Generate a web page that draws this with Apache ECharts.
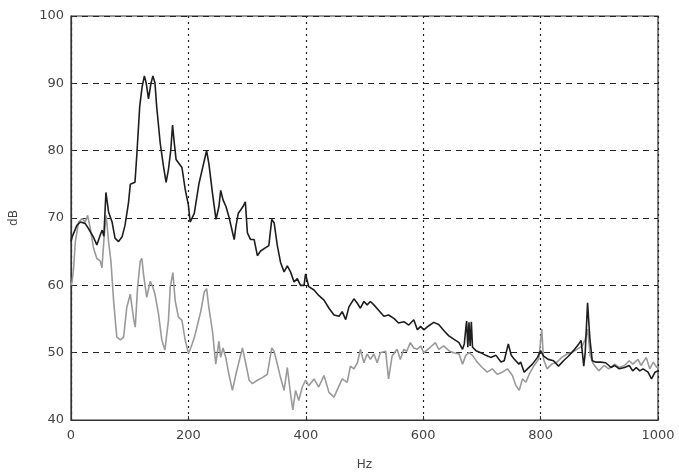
<!DOCTYPE html>
<html>
<head>
<meta charset="utf-8">
<script src="https://cdn.jsdelivr.net/npm/echarts@6/dist/echarts.min.js"></script>
<style>html,body{margin:0;padding:0;background:#fff}#c{width:679px;height:476px}</style>
</head>
<body>
<div id="c"></div>
<script>
// Upper (black) spectrum
var blackHz = [0,2,10,16,24,30,38,44,50,53,56,59.5,64,70,75,81,87,92,98,101,109,112,117,121,125,128,132,136,139.5,143,146,152,157.5,162,166,170,173,176,179,183,189,194.5,200,203,210,218,227,231,235,241,247,252,255,259,264,269,274,278,281,285,289,293,297,300.5,306,312,317.5,323,331.6,337,342,346,351.5,357,363,368.5,374,380,385.5,391,397,399.6,405,414,422,431,439.5,448,456.8,462,468,473.5,482,488,493,499,504.5,510,516,524,533,541,550,558,567,575.5,584,590,595.5,601,609.7,618,626.5,635,643.7,652,661,667,670,673,674,676,678,680,682,684,686,690,698,706.6,715,724,732.5,738,745,750,754.5,763,766,772,777.6,786,794.7,800,805,813,822,830.5,839,847.7,856,865,869,873.5,876,880,884,888,893.5,902,911,920,926,934,943,951,957,963,969,974.5,983,989,995,1000];
var blackDb = [66.5,67.2,68.9,69.4,69.2,68.4,67.2,66,67.5,68.2,67.3,73.8,70.9,69.4,67,66.5,67.2,68.9,72.3,75,75.3,79.2,86.5,89.4,91.1,90.1,87.7,89.9,91.1,90.1,86.5,81.1,77.7,75.3,77.2,80.1,83.8,81.1,78.7,78.2,77.5,74.3,71.9,69.4,70.7,75.1,78.5,80,78,73.7,69.8,71.7,74.1,72.7,71.7,70.2,68.3,66.8,68.8,70.7,71.2,71.7,72.4,67.8,66.8,66.8,64.4,65.1,65.6,65.9,69.8,69.3,65.9,63.4,62,62.9,62,60.5,61,60,60,61.7,59.8,59.3,58.5,57.8,56.6,55.6,55.4,56.1,54.9,56.8,58,57.3,56.6,57.6,57.1,57.6,57.1,56.3,55.4,55.6,55.1,54.4,54.6,54.1,54.9,53.4,53.9,53.4,54,54.5,54.2,53.3,52.5,52,51.5,50.5,51.3,54,54.7,50.8,54.5,51,54.6,50.8,50.8,50.3,50,49.6,49.3,49.6,48.6,48.8,51.3,49.6,49.1,48.3,48.6,47.1,47.6,48.3,49.3,50.3,49.5,49,48.8,48,48.8,49.5,50.3,51.3,51.8,48,50,57.4,52,48.8,48.6,48.6,48.5,47.8,48.1,47.6,47.8,48.1,47.3,47.8,47.3,47.6,47.1,46.1,47.1,47.3];

// Lower (grey) spectrum
var greyHz = [0,2,4.5,7.4,13,18.7,24.4,28.3,33,38.5,44,50,52.7,56.7,60,64,68,72.6,78,84,89.6,95,101,107,109.5,113.4,118,120.7,123.6,129,135,139.5,143,149,154.7,160,166,169,173.5,177.5,183,189,194.5,200,204,210,215.4,221,227,231,235,241,246.6,252,255,259,263.6,269,275,281,286.6,292,298,303.5,309,317.5,326,334.5,342,346,351.5,357,363,368.5,374,378,382.6,388,394,399.6,405,414,422,431,439.5,448,456.8,462,470.5,476,482,488,493,499,504.5,510,516,521.6,527,536,541,547,555.6,561,567,572,578,584,590,595.5,601,604,612,620.7,626.5,635,643.7,652,661,667,672.6,678,684,692,700.5,709,717.6,726,735,743.6,752,758,763.6,769,775,780.6,789,797,802,805,811,819,828,836,845,853,862,871,876,880,884.5,890,899,908,916,926,934,943,951,957,966,971,980,986,992,998,1000];
var greyDb = [60,60.6,62.6,66.5,69.4,69.9,69.4,70.4,68.4,65.5,64,63.6,62.6,67.5,70.4,66.5,63.6,57.7,52.3,51.9,52.3,56.7,58.7,54.8,53.8,59.7,63.6,64,61.6,58.2,60.6,59.7,58.7,55.8,51.9,50.4,54.8,59.7,61.9,57.7,55.3,54.8,51.9,49.9,50.7,52.2,54.1,56.1,59,59.5,56.6,53.2,48.3,51.7,49.3,50.7,49.3,46.8,44.4,46.8,48.8,50.7,48.3,45.9,45.4,45.9,46.3,46.8,50.7,50.2,48.3,46.3,44.4,47.8,43.9,41.5,44.4,42.9,44.9,45.9,45.1,46.1,44.9,46.6,44.1,43.4,45.1,46.1,45.6,48,47.6,48.5,50.5,48.5,49.8,49,49.8,48.5,50,50.2,46.1,49.5,50.5,49,50.5,50.2,51.5,50.7,50.5,51,50,50,50.8,51.5,50.5,51,50.3,50,49.8,48.3,49.6,50,49.6,48.6,47.8,47.1,47.6,46.8,47.1,47.6,46.6,45.1,44.4,46.1,45.6,46.8,48.1,49.1,53.5,49,47.6,48.3,48.6,49.3,49.8,50,50.5,51,52,53.5,49.6,48.3,47.3,48.1,47.6,48.3,47.8,48.1,48.8,48.3,49,48.1,49.3,47.6,48.6,47.8,48];

var xTicks = [0,200,400,600,800,1000];
var yTicks = [40,50,60,70,80,90,100];

function pairs(xs, ys){ return xs.map(function(x,i){ return [x, ys[i]]; }); }
function plain(v){ return String(v); }

var chart = echarts.init(document.getElementById('c'), null, {renderer:'canvas'});
var labelFont = {fontFamily:'DejaVu Sans', fontSize:13, color:'#444'};
chart.setOption({
  backgroundColor:'#fff',
  animation:false,
  grid:{left:70, right:21, top:16, bottom:49, show:true, borderColor:'#333', borderWidth:1.2, backgroundColor:'transparent'},
  xAxis:{
    type:'value', min:xTicks[0], max:xTicks[xTicks.length-1], interval:200,
    name:'Hz', nameLocation:'middle', nameGap:39,
    nameTextStyle:{fontFamily:'DejaVu Sans', fontSize:12, color:'#444'},
    axisLine:{show:true, lineStyle:{color:'#333', width:1.2}},
    axisTick:{show:true, inside:true, length:4, lineStyle:{color:'#333'}},
    axisLabel:Object.assign({margin:9, formatter:plain}, labelFont),
    splitLine:{show:true, lineStyle:{color:'#222', type:[2,4], width:1.2}}
  },
  yAxis:{
    type:'value', min:yTicks[0], max:yTicks[yTicks.length-1], interval:10,
    name:'dB', nameLocation:'middle', nameGap:51,
    nameTextStyle:{fontFamily:'DejaVu Sans', fontSize:12, color:'#444'},
    axisLine:{show:true, lineStyle:{color:'#333', width:1.2}},
    axisTick:{show:true, inside:true, length:4, lineStyle:{color:'#333'}},
    axisLabel:Object.assign({margin:7, formatter:plain}, labelFont),
    splitLine:{show:true, lineStyle:{color:'#222', type:[6,5], width:1.2}}
  },
  series:[
    {type:'line', data:pairs(greyHz, greyDb), showSymbol:false, symbol:'none',
     lineStyle:{color:'#9a9a9a', width:1.6}, z:2},
    {type:'line', data:pairs(blackHz, blackDb), showSymbol:false, symbol:'none',
     lineStyle:{color:'#1e1e1e', width:1.6}, z:3}
  ]
});
</script>
</body>
</html>
